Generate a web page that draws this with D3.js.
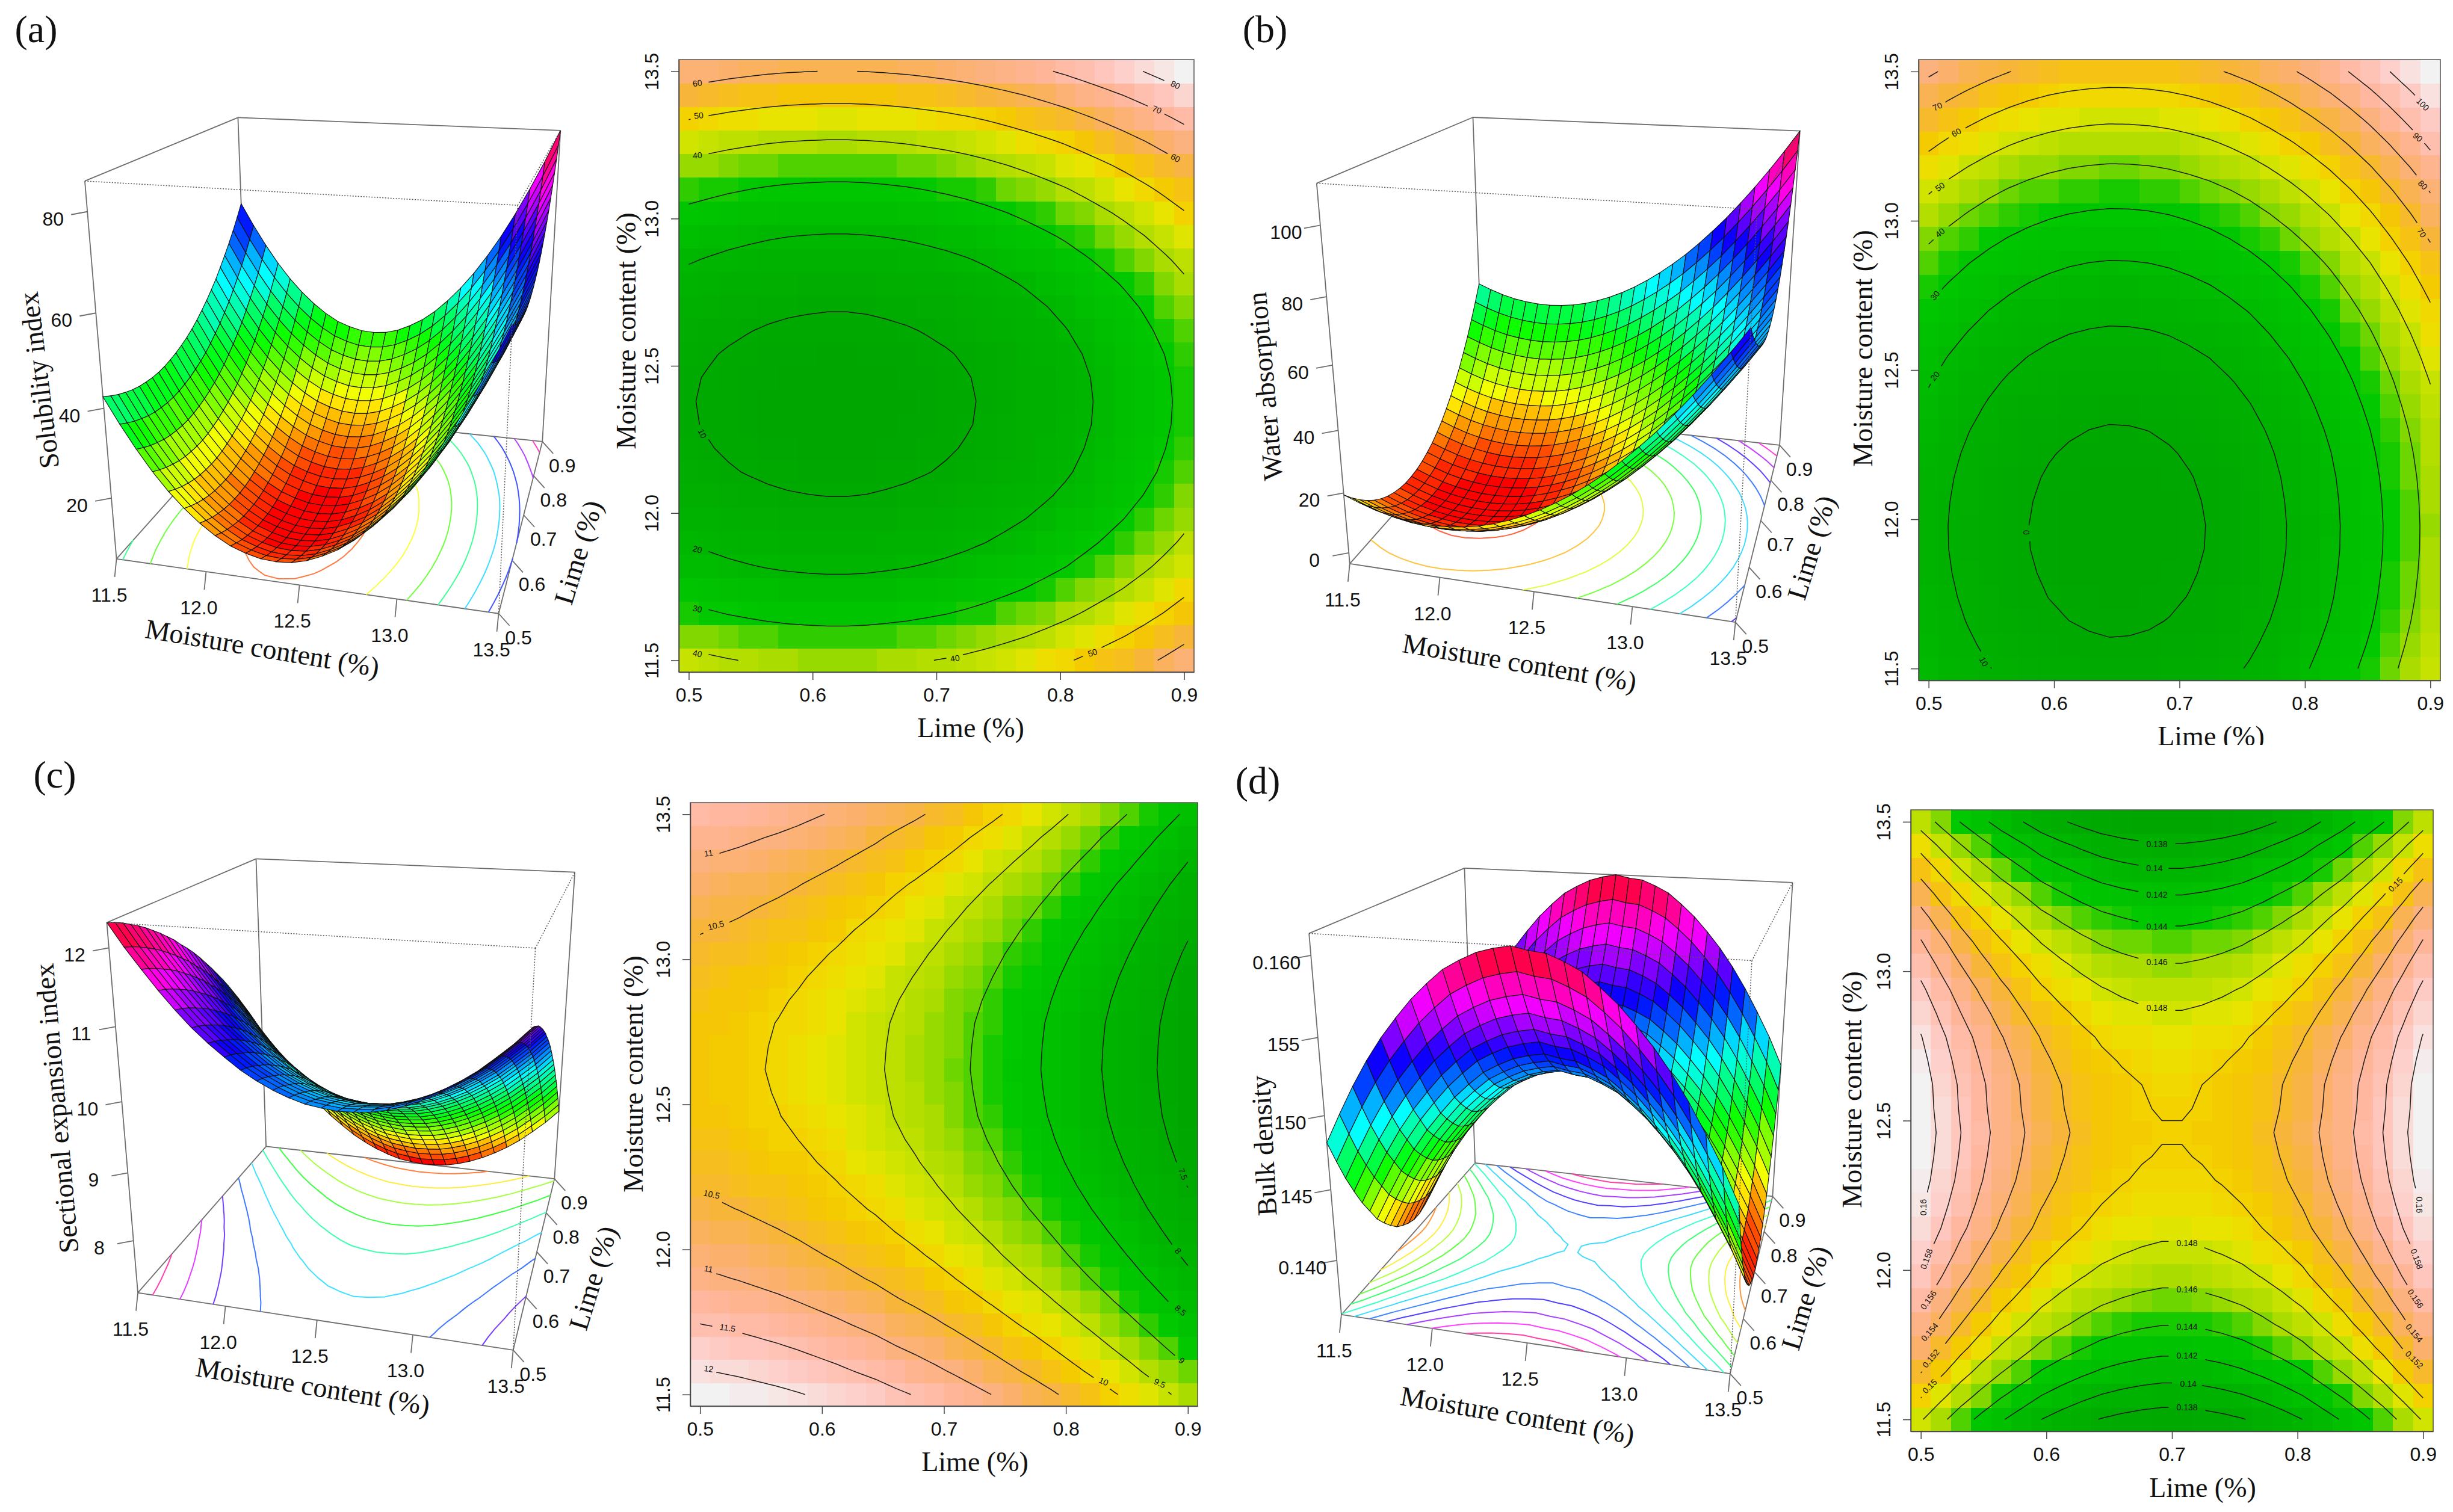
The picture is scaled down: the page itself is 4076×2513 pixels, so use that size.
<!DOCTYPE html>
<html>
<head>
<meta charset="utf-8">
<script src="https://cdn.jsdelivr.net/npm/d3@7"></script>
<style>
  body { margin: 0; background: #fff; }
  svg { display: block; }
  .serif { font-family: "Liberation Serif", serif; fill: #111; }
  .sans { font-family: "Liberation Sans", sans-serif; fill: #111; }
</style>
</head>
<body>
<svg id="chart" width="4076" height="2513"></svg>
<script>
// grid nodes shared by all panels
const limeValues = [0.5,0.516,0.532,0.548,0.564,0.58,0.596,0.612,0.628,0.644,0.66,0.676,0.692,0.708,0.724,0.74,0.756,0.772,0.788,0.804,0.82,0.836,0.852,0.868,0.884,0.9];
const moistureValues = [11.5,11.58,11.66,11.74,11.82,11.9,11.98,12.06,12.14,12.22,12.3,12.38,12.46,12.54,12.62,12.7,12.78,12.86,12.94,13.02,13.1,13.18,13.26,13.34,13.42,13.5];
const limeTicks = [0.5,0.6,0.7,0.8,0.9];
const moistureTicks = [11.5,12,12.5,13,13.5];

// rows go by moisture (11.5 first), columns by lime (0.5 first)
// solubility index, in tenths
const solubilityIndex = [
[425,414,404,396,389,384,381,379,379,381,385,390,397,405,415,427,441,456,473,491,512,534,557,582,609,638],
[369,358,348,340,333,328,325,323,323,325,329,334,341,349,359,371,385,400,417,435,456,478,501,526,553,582],
[318,307,297,289,282,277,274,272,272,274,278,283,290,298,308,320,334,349,366,384,405,427,450,475,502,531],
[272,261,251,243,236,231,228,226,226,228,232,237,244,252,262,274,288,303,320,338,359,381,404,429,456,485],
[232,221,211,203,196,191,188,186,186,188,192,197,204,212,222,234,248,263,280,298,319,341,364,389,416,445],
[198,187,177,169,162,157,154,152,152,154,158,163,170,178,188,200,214,229,246,264,285,307,330,355,382,411],
[169,158,148,140,133,128,125,123,123,125,129,134,141,149,159,171,185,200,217,235,256,278,301,326,353,382],
[145,134,124,116,109,104,101,99,99,101,105,110,117,125,135,147,161,176,193,211,232,254,277,302,329,358],
[126,115,105,97,90,85,82,80,80,82,86,91,98,106,116,128,142,157,174,192,213,235,258,283,310,339],
[114,103,93,85,78,73,70,68,68,70,74,79,86,94,104,116,130,145,162,180,201,223,246,271,298,327],
[106,95,85,77,70,65,62,60,60,62,66,71,78,86,96,108,122,137,154,172,193,215,238,263,290,319],
[104,93,83,75,68,63,60,58,58,60,64,69,76,84,94,106,120,135,152,170,191,213,236,261,288,317],
[107,96,86,78,71,66,63,61,61,63,67,72,79,87,97,109,123,138,155,173,194,216,239,264,291,320],
[116,105,95,87,80,75,72,70,70,72,76,81,88,96,106,118,132,147,164,182,203,225,248,273,300,329],
[131,120,110,102,95,90,87,85,85,87,91,96,103,111,121,133,147,162,179,197,218,240,263,288,315,344],
[150,139,129,121,114,109,106,104,104,106,110,115,122,130,140,152,166,181,198,216,237,259,282,307,334,363],
[175,164,154,146,139,134,131,129,129,131,135,140,147,155,165,177,191,206,223,241,262,284,307,332,359,388],
[206,195,185,177,170,165,162,160,160,162,166,171,178,186,196,208,222,237,254,272,293,315,338,363,390,419],
[242,231,221,213,206,201,198,196,196,198,202,207,214,222,232,244,258,273,290,308,329,351,374,399,426,455],
[283,272,262,254,247,242,239,237,237,239,243,248,255,263,273,285,299,314,331,349,370,392,415,440,467,496],
[330,319,309,301,294,289,286,284,284,286,290,295,302,310,320,332,346,361,378,396,417,439,462,487,514,543],
[382,371,361,353,346,341,338,336,336,338,342,347,354,362,372,384,398,413,430,448,469,491,514,539,566,595],
[440,429,419,411,404,399,396,394,394,396,400,405,412,420,430,442,456,471,488,506,527,549,572,597,624,653],
[503,492,482,474,467,462,459,457,457,459,463,468,475,483,493,505,519,534,551,569,590,612,635,660,687,716],
[571,560,550,542,535,530,527,525,525,527,531,536,543,551,561,573,587,602,619,637,658,680,703,728,755,784],
[645,634,624,616,609,604,601,599,599,601,605,610,617,625,635,647,661,676,693,711,732,754,777,802,829,858]];

// water absorption, in tenths
const waterAbsorption = [
[194,160,130,103,80,61,46,35,28,24,25,29,37,49,64,84,107,135,166,201,239,282,328,379,433,491],
[175,141,111,84,61,42,27,16,9,5,6,10,18,30,45,65,88,116,147,182,220,263,309,360,414,472],
[159,125,95,68,45,26,11,0,-7,-11,-10,-6,2,14,29,49,72,100,131,166,204,247,293,344,398,456],
[147,113,83,56,33,14,-1,-12,-19,-23,-22,-18,-10,2,17,37,60,88,119,154,192,235,281,332,386,444],
[139,105,75,48,25,6,-9,-20,-27,-31,-30,-26,-18,-6,9,29,52,80,111,146,184,227,273,324,378,436],
[134,100,70,43,20,1,-14,-25,-32,-36,-35,-31,-23,-11,4,24,47,75,106,141,179,222,268,319,373,431],
[133,99,69,42,19,0,-15,-26,-33,-37,-36,-32,-24,-12,3,23,46,74,105,140,178,221,267,318,372,430],
[136,102,72,45,22,3,-12,-23,-30,-34,-33,-29,-21,-9,6,26,49,77,108,143,181,224,270,321,375,433],
[142,108,78,51,28,9,-6,-17,-24,-28,-27,-23,-15,-3,12,32,55,83,114,149,187,230,276,327,381,439],
[152,118,88,61,38,19,4,-7,-14,-18,-17,-13,-5,7,22,42,65,93,124,159,197,240,286,337,391,449],
[166,132,102,75,52,33,18,7,0,-4,-3,1,9,21,36,56,79,107,138,173,211,254,300,351,405,463],
[184,150,120,93,70,51,36,25,18,14,15,19,27,39,54,74,97,125,156,191,229,272,318,369,423,481],
[205,171,141,114,91,72,57,46,39,35,36,40,48,60,75,95,118,146,177,212,250,293,339,390,444,502],
[230,196,166,139,116,97,82,71,64,60,61,65,73,85,100,120,143,171,202,237,275,318,364,415,469,527],
[259,225,195,168,145,126,111,100,93,89,90,94,102,114,129,149,172,200,231,266,304,347,393,444,498,556],
[291,257,227,200,177,158,143,132,125,121,122,126,134,146,161,181,204,232,263,298,336,379,425,476,530,588],
[327,293,263,236,213,194,179,168,161,157,158,162,170,182,197,217,240,268,299,334,372,415,461,512,566,624],
[366,332,302,275,252,233,218,207,200,196,197,201,209,221,236,256,279,307,338,373,411,454,500,551,605,663],
[410,376,346,319,296,277,262,251,244,240,241,245,253,265,280,300,323,351,382,417,455,498,544,595,649,707],
[457,423,393,366,343,324,309,298,291,287,288,292,300,312,327,347,370,398,429,464,502,545,591,642,696,754],
[507,473,443,416,393,374,359,348,341,337,338,342,350,362,377,397,420,448,479,514,552,595,641,692,746,804],
[562,528,498,471,448,429,414,403,396,392,393,397,405,417,432,452,475,503,534,569,607,650,696,747,801,859],
[620,586,556,529,506,487,472,461,454,450,451,455,463,475,490,510,533,561,592,627,665,708,754,805,859,917],
[682,648,618,591,568,549,534,523,516,512,513,517,525,537,552,572,595,623,654,689,727,770,816,867,921,979],
[747,713,683,656,633,614,599,588,581,577,578,582,590,602,617,637,660,688,719,754,792,835,881,932,986,1044],
[816,782,752,725,702,683,668,657,650,646,647,651,659,671,686,706,729,757,788,823,861,904,950,1001,1055,1113]];

// sectional expansion index, in hundredths
const sectionalExpansion = [
[1231,1227,1222,1216,1210,1203,1195,1187,1178,1169,1158,1148,1137,1125,1112,1099,1085,1071,1056,1040,1024,1007,990,972,953,934],
[1202,1198,1193,1187,1181,1174,1166,1158,1149,1140,1129,1119,1108,1096,1083,1070,1056,1042,1027,1011,995,978,961,943,924,905],
[1176,1172,1167,1161,1155,1148,1140,1132,1123,1114,1103,1093,1082,1070,1057,1044,1030,1016,1001,985,969,952,935,917,898,879],
[1151,1147,1142,1136,1130,1123,1115,1107,1098,1089,1078,1068,1057,1045,1032,1019,1005,991,976,960,944,927,910,892,873,854],
[1128,1124,1119,1113,1107,1100,1092,1084,1075,1066,1055,1045,1034,1022,1009,996,982,968,953,937,921,904,887,869,850,831],
[1107,1103,1098,1092,1086,1079,1071,1063,1054,1045,1034,1024,1013,1001,988,975,961,947,932,916,900,883,866,848,829,810],
[1089,1085,1080,1074,1068,1061,1053,1045,1036,1027,1016,1006,995,983,970,957,943,929,914,898,882,865,848,830,811,792],
[1073,1069,1064,1058,1052,1045,1037,1029,1020,1011,1000,990,979,967,954,941,927,913,898,882,866,849,832,814,795,776],
[1058,1054,1049,1043,1037,1030,1022,1014,1005,996,985,975,964,952,939,926,912,898,883,867,851,834,817,799,780,761],
[1046,1042,1037,1031,1025,1018,1010,1002,993,984,973,963,952,940,927,914,900,886,871,855,839,822,805,787,768,749],
[1036,1032,1027,1021,1015,1008,1000,992,983,974,963,953,942,930,917,904,890,876,861,845,829,812,795,777,758,739],
[1028,1024,1019,1013,1007,1000,992,984,975,966,955,945,934,922,909,896,882,868,853,837,821,804,787,769,750,731],
[1022,1018,1013,1007,1001,994,986,978,969,960,949,939,928,916,903,890,876,862,847,831,815,798,781,763,744,725],
[1019,1015,1010,1004,998,991,983,975,966,957,946,936,925,913,900,887,873,859,844,828,812,795,778,760,741,722],
[1017,1013,1008,1002,996,989,981,973,964,955,944,934,923,911,898,885,871,857,842,826,810,793,776,758,739,720],
[1018,1014,1009,1003,997,990,982,974,965,956,945,935,924,912,899,886,872,858,843,827,811,794,777,759,740,721],
[1020,1016,1011,1005,999,992,984,976,967,958,947,937,926,914,901,888,874,860,845,829,813,796,779,761,742,723],
[1025,1021,1016,1010,1004,997,989,981,972,963,952,942,931,919,906,893,879,865,850,834,818,801,784,766,747,728],
[1032,1028,1023,1017,1011,1004,996,988,979,970,959,949,938,926,913,900,886,872,857,841,825,808,791,773,754,735],
[1041,1037,1032,1026,1020,1013,1005,997,988,979,968,958,947,935,922,909,895,881,866,850,834,817,800,782,763,744],
[1052,1048,1043,1037,1031,1024,1016,1008,999,990,979,969,958,946,933,920,906,892,877,861,845,828,811,793,774,755],
[1065,1061,1056,1050,1044,1037,1029,1021,1012,1003,992,982,971,959,946,933,919,905,890,874,858,841,824,806,787,768],
[1080,1076,1071,1065,1059,1052,1044,1036,1027,1018,1007,997,986,974,961,948,934,920,905,889,873,856,839,821,802,783],
[1098,1094,1089,1083,1077,1070,1062,1054,1045,1036,1025,1015,1004,992,979,966,952,938,923,907,891,874,857,839,820,801],
[1117,1113,1108,1102,1096,1089,1081,1073,1064,1055,1044,1034,1023,1011,998,985,971,957,942,926,910,893,876,858,839,820],
[1139,1135,1130,1124,1118,1111,1103,1095,1086,1077,1066,1056,1045,1033,1020,1007,993,979,964,948,932,915,898,880,861,842]];

// bulk density, in ten-thousandths
const bulkDensity = [
[1482,1465,1449,1435,1422,1411,1400,1392,1385,1379,1375,1372,1370,1370,1372,1375,1379,1385,1392,1400,1411,1422,1435,1449,1465,1482],
[1502,1485,1469,1455,1442,1431,1420,1412,1405,1399,1395,1392,1390,1390,1392,1395,1399,1405,1412,1420,1431,1442,1455,1469,1485,1502],
[1521,1504,1488,1474,1461,1450,1439,1431,1424,1418,1414,1411,1409,1409,1411,1414,1418,1424,1431,1439,1450,1461,1474,1488,1504,1521],
[1538,1521,1505,1491,1478,1467,1456,1448,1441,1435,1431,1428,1426,1426,1428,1431,1435,1441,1448,1456,1467,1478,1491,1505,1521,1538],
[1553,1536,1520,1506,1493,1482,1471,1463,1456,1450,1446,1443,1441,1441,1443,1446,1450,1456,1463,1471,1482,1493,1506,1520,1536,1553],
[1566,1549,1533,1519,1506,1495,1484,1476,1469,1463,1459,1456,1454,1454,1456,1459,1463,1469,1476,1484,1495,1506,1519,1533,1549,1566],
[1578,1561,1545,1531,1518,1507,1496,1488,1481,1475,1471,1468,1466,1466,1468,1471,1475,1481,1488,1496,1507,1518,1531,1545,1561,1578],
[1588,1571,1555,1541,1528,1517,1506,1498,1491,1485,1481,1478,1476,1476,1478,1481,1485,1491,1498,1506,1517,1528,1541,1555,1571,1588],
[1597,1580,1564,1550,1537,1526,1515,1507,1500,1494,1490,1487,1485,1485,1487,1490,1494,1500,1507,1515,1526,1537,1550,1564,1580,1597],
[1603,1586,1570,1556,1543,1532,1521,1513,1506,1500,1496,1493,1491,1491,1493,1496,1500,1506,1513,1521,1532,1543,1556,1570,1586,1603],
[1608,1591,1575,1561,1548,1537,1526,1518,1511,1505,1501,1498,1496,1496,1498,1501,1505,1511,1518,1526,1537,1548,1561,1575,1591,1608],
[1611,1594,1578,1564,1551,1540,1529,1521,1514,1508,1504,1501,1499,1499,1501,1504,1508,1514,1521,1529,1540,1551,1564,1578,1594,1611],
[1613,1596,1580,1566,1553,1542,1531,1523,1516,1510,1506,1503,1501,1501,1503,1506,1510,1516,1523,1531,1542,1553,1566,1580,1596,1613],
[1611,1594,1578,1564,1551,1540,1529,1521,1514,1508,1504,1501,1499,1499,1501,1504,1508,1514,1521,1529,1540,1551,1564,1578,1594,1611],
[1610,1593,1577,1563,1550,1539,1528,1520,1513,1507,1503,1500,1498,1498,1500,1503,1507,1513,1520,1528,1539,1550,1563,1577,1593,1610],
[1606,1589,1573,1559,1546,1535,1524,1516,1509,1503,1499,1496,1494,1494,1496,1499,1503,1509,1516,1524,1535,1546,1559,1573,1589,1606],
[1601,1584,1568,1554,1541,1530,1519,1511,1504,1498,1494,1491,1489,1489,1491,1494,1498,1504,1511,1519,1530,1541,1554,1568,1584,1601],
[1593,1576,1560,1546,1533,1522,1511,1503,1496,1490,1486,1483,1481,1481,1483,1486,1490,1496,1503,1511,1522,1533,1546,1560,1576,1593],
[1584,1567,1551,1537,1524,1513,1502,1494,1487,1481,1477,1474,1472,1472,1474,1477,1481,1487,1494,1502,1513,1524,1537,1551,1567,1584],
[1573,1556,1540,1526,1513,1502,1491,1483,1476,1470,1466,1463,1461,1461,1463,1466,1470,1476,1483,1491,1502,1513,1526,1540,1556,1573],
[1561,1544,1528,1514,1501,1490,1479,1471,1464,1458,1454,1451,1449,1449,1451,1454,1458,1464,1471,1479,1490,1501,1514,1528,1544,1561],
[1547,1530,1514,1500,1487,1476,1465,1457,1450,1444,1440,1437,1435,1435,1437,1440,1444,1450,1457,1465,1476,1487,1500,1514,1530,1547],
[1531,1514,1498,1484,1471,1460,1449,1441,1434,1428,1424,1421,1419,1419,1421,1424,1428,1434,1441,1449,1460,1471,1484,1498,1514,1531],
[1513,1496,1480,1466,1453,1442,1431,1423,1416,1410,1406,1403,1401,1401,1403,1406,1410,1416,1423,1431,1442,1453,1466,1480,1496,1513],
[1494,1477,1461,1447,1434,1423,1412,1404,1397,1391,1387,1384,1382,1382,1384,1387,1391,1397,1404,1412,1423,1434,1447,1461,1477,1494],
[1472,1455,1439,1425,1412,1401,1390,1382,1375,1369,1365,1362,1360,1360,1362,1365,1369,1375,1382,1390,1401,1412,1425,1439,1455,1472]];

// contour levels
const solubilityLevels = [10,20,30,40,50,60,70,80];
const absorptionLevels = [0,10,20,30,40,50,60,70,80,90,100];
const expansionLevels = [7.5,8,8.5,9,9.5,10,10.5,11,11.5,12];
const densityLevels = [0.136,0.138,0.14,0.142,0.144,0.146,0.148,0.15,0.152,0.154,0.156,0.158,0.16];

// contour labels: level, lime, moisture, angle
const solubilityLabels = [[60,.507,13.46,-8],[50,.508,13.35,-6],[40,.507,13.215,-5],[10,.511,12.27,65],[20,.507,11.877,15],[30,.507,11.675,12],[40,.507,11.523,12],[40,.715,11.507,-8],[50,.826,11.526,-20],[80,.893,13.454,25],[70,.878,13.37,22],[60,.893,13.206,30]];
const absorptionLabels = [[0,.578,11.956,90],[10,.544,11.523,60],[20,.505,12.48,-50],[30,.505,12.75,-50],[40,.509,12.96,-40],[50,.509,13.114,-35],[60,.522,13.296,-28],[70,.507,13.383,-25],[100,.894,13.39,45],[90,.89,13.28,40],[80,.894,13.12,45],[70,.893,12.96,55]];
const expansionLabels = [[11,.507,13.366,-10],[10.5,.513,13.117,-15],[10.5,.5095,12.19,12],[11,.507,11.933,10],[11.5,.5226,11.73,8],[12,.507,11.589,8],[7.5,.896,12.26,70],[8,.892,11.995,50],[8.5,.894,11.79,40],[9,.895,11.617,40],[9.5,.877,11.539,25],[10,.831,11.545,25]];
const densityLabels = [[.138,.688,13.426,0],[.14,.686,13.344,0],[.142,.688,13.256,0],[.144,.688,13.15,0],[.146,.688,13.03,0],[.148,.688,12.877,0],[.148,.712,12.09,0],[.146,.712,11.935,0],[.144,.712,11.81,0],[.142,.712,11.713,0],[.14,.713,11.62,0],[.138,.712,11.54,0],[.16,.502,12.21,-90],[.158,.5045,12.037,-70],[.156,.506,11.9,-55],[.154,.507,11.793,-50],[.152,.508,11.704,-50],[.15,.507,11.611,-45],[.15,.878,13.29,-45],[.16,.897,12.218,90],[.158,.895,12.037,70],[.156,.894,11.904,55],[.154,.893,11.789,50],[.152,.893,11.7,45]];

// z axis tick labels of the 3D views
const solubilityTicks = [20,40,60,80];
const absorptionTicks = [0,20,40,60,80,100];
const expansionTicks = [8,9,10,11,12];
const densityTicks = [0.14,0.145,0.15,0.155,0.16];
const densityTickText = ["0.140","145","150","155","0.160"];

// colour ramp of the flat maps
const heatStops = [0,.15,.3,.33,.36,.41,.47,.5,.53,.58,.65,.72,.8,.88,.95,1];
const heatColors = ["#00a600","#00b400","#00c800","#28cc00","#66d400","#a8dc00","#cce300","#e6e600","#f0dc00","#f5c800","#f7b638","#fbb070","#ffb59a","#ffc8c0","#f8e0de","#f2f2f2"];

const panels = [
  { tag: "(a)", tagAt: [60,48], grid: solubilityIndex, unit: 10, levels: solubilityLevels, labels: solubilityLabels,
    zTicks: solubilityTicks, zText: null, zTitle: "Solubility index", zAngle: -97,
    corners: [[194,926],[829,1023],[413,686],[901,730],[141,300],[859,342],[395.5,194.5],[932,218]],
    moistAt: [436,1077], limeAt: [961,918], zAt: [65,632],
    frame: [1128,1984,99,1117], limeTitle: [1613,1209], moistTitle: [1040,550] },
  { tag: "(b)", tagAt: [2102,48], grid: waterAbsorption, unit: 10, levels: absorptionLevels, labels: absorptionLabels,
    zTicks: absorptionTicks, zText: null, zTitle: "Water absorption", zAngle: -95,
    corners: [[2243,937.5],[2883,1035],[2466,685],[2957,739],[2189,305],[2919,346],[2446,194.5],[2992,219.4]],
    moistAt: [2525,1101], limeAt: [3010,910], zAt: [2102,642],
    frame: [3188,4055,99,1131], limeTitle: [3674,1223], moistTitle: [3095,579], clipTitle: 1238 },
  { tag: "(c)", tagAt: [91,1287], grid: sectionalExpansion, unit: 100, levels: expansionLevels, labels: expansionLabels,
    zTicks: expansionTicks, zText: null, zTitle: "Sectional expansion index", zAngle: -95,
    corners: [[229,2148],[852,2244],[442,1906],[922,1959],[177,1533],[891,1577],[426,1427.5],[954,1449]],
    moistAt: [520,2304], limeAt: [985.5,2124], zAt: [94,1842],
    frame: [1147,1990,1334,2337], limeTitle: [1620,2429], moistTitle: [1052,1785] },
  { tag: "(d)", tagAt: [2090,1297], grid: bulkDensity, unit: 10000, levels: densityLevels, labels: densityLabels,
    zTicks: densityTicks, zText: densityTickText, zTitle: "Bulk density", zAngle: -93,
    corners: [[2229,2185],[2874,2283],[2451,1933],[2946,1988.5],[2175,1551],[2912,1597],[2433.5,1443],[2978,1466.6]],
    moistAt: [2521.5,2352], limeAt: [3000,2157], zAt: [2100,1904],
    frame: [3175,4043,1346,2379], limeTitle: [3660,2472], moistTitle: [3077,1811] }
];

const svg = d3.select("#chart");
const n = limeValues.length;
const limeStep = limeValues[1] - limeValues[0];
const moistStep = moistureValues[1] - moistureValues[0];
const idxLime = d3.scaleLinear().domain([0, n - 1]).range([limeValues[0], limeValues[n - 1]]);
const idxMoist = d3.scaleLinear().domain([0, n - 1]).range([moistureValues[0], moistureValues[n - 1]]);
const heatScale = d3.scaleLinear().domain(heatStops).range(heatColors).interpolate(d3.interpolateRgb);

function hsv(h, s, v) {
  // h in degrees
  const f = (k) => {
    const m = (k + h / 60) % 6;
    return v - v * s * Math.max(0, Math.min(m, 4 - m, 1));
  };
  return d3.rgb(f(5) * 255, f(3) * 255, f(1) * 255).formatHex();
}

function terrain(t, bands) {
  return heatScale(Math.min(bands - 1, Math.floor(t * bands)) / (bands - 1));
}

// rainbow with the last bit of the hue circle left out
function rainbow(t, bands) {
  const k = Math.min(bands - 1, Math.floor(t * bands));
  return hsv((k / bands) * 360, 1, 1);
}

// contour lines in lime / moisture units, with the grid border dropped
function isoLines(grid, raw) {
  const [shape] = d3.contours().size([n, n]).thresholds([raw])(grid.flat());
  const onEdge = (p) => p[0] <= 0 || p[0] >= n || p[1] <= 0 || p[1] >= n;
  const lines = [];
  shape.coordinates.forEach((poly) =>
    poly.forEach((ring) => {
      const pts = ring.slice(0, -1);
      const start = pts.findIndex(onEdge);
      if (start < 0) {
        lines.push(ring);
        return;
      }
      let cur = [];
      for (let k = 0; k <= pts.length; k++) {
        const p = pts[(start + k) % pts.length];
        if (onEdge(p)) {
          if (cur.length > 1) lines.push(cur);
          cur = [];
        } else cur.push(p);
      }
    })
  );
  return lines.map((l) => l.map(([cx, cy]) => [idxLime(cx - 0.5), idxMoist(cy - 0.5)]));
}

// fit a 3x4 camera matrix to the eight box corners
function fitCamera(corners) {
  const cx = d3.mean(corners, (c) => c[0]);
  const cy = d3.mean(corners, (c) => c[1]);
  const rows = [], rhs = [];
  const unit = [[0,0,0],[1,0,0],[0,1,0],[1,1,0],[0,0,1],[1,0,1],[0,1,1],[1,1,1]];
  corners.forEach((c, i) => {
    const [u, v, w] = unit[i];
    const x = (c[0] - cx) / 500, y = (c[1] - cy) / 500;
    rows.push([u, v, w, 1, 0, 0, 0, 0, -x * u, -x * v, -x * w]);
    rhs.push(x);
    rows.push([0, 0, 0, 0, u, v, w, 1, -y * u, -y * v, -y * w]);
    rhs.push(y);
  });
  const m = 11;
  const A = d3.range(m).map((i) => {
    const r = d3.range(m).map((j) => d3.sum(rows, (row) => row[i] * row[j]));
    r.push(d3.sum(rows, (row, k) => row[i] * rhs[k]));
    return r;
  });
  for (let i = 0; i < m; i++) {
    let piv = i;
    for (let k = i + 1; k < m; k++) if (Math.abs(A[k][i]) > Math.abs(A[piv][i])) piv = k;
    [A[i], A[piv]] = [A[piv], A[i]];
    for (let k = 0; k < m; k++) {
      if (k === i) continue;
      const f = A[k][i] / A[i][i];
      for (let j = i; j <= m; j++) A[k][j] -= f * A[i][j];
    }
  }
  const p = d3.range(m).map((i) => A[i][m] / A[i][i]);
  return ([u, v, w]) => {
    const d = p[8] * u + p[9] * v + p[10] * w + 1;
    return [
      ((p[0] * u + p[1] * v + p[2] * w + p[3]) / d) * 500 + cx,
      ((p[4] * u + p[5] * v + p[6] * w + p[7]) / d) * 500 + cy,
    ];
  };
}

const lineGen = d3.line();

function drawSurface(panel) {
  const g = svg.append("g");
  const project = fitCamera(panel.corners);
  const zExtent = d3.extent(panel.grid.flat());
  const uScale = d3.scaleLinear().domain([11.5, 13.5]).range([0, 1]);
  const vScale = d3.scaleLinear().domain([0.5, 0.9]).range([0, 1]);
  const wScale = d3.scaleLinear().domain(zExtent).range([0, 1]);
  const at = (lime, moist, raw) => project([uScale(moist), vScale(lime), wScale(raw)]);

  const solid = [
    [[0,0,0],[1,0,0]], [[1,0,0],[1,1,0]], [[0,0,0],[0,1,0]], [[0,1,0],[1,1,0]],
    [[0,0,0],[0,0,1]], [[0,0,1],[0,1,1]], [[0,1,1],[1,1,1]], [[0,1,1],[0,1,0]], [[1,1,1],[1,1,0]],
  ];
  const dotted = [[[0,0,1],[1,0,1]], [[1,0,1],[1,1,1]], [[1,0,1],[1,0,0]]];

  g.selectAll(".edge").data(solid).join("path")
    .attr("d", (d) => lineGen(d.map(project)))
    .attr("fill", "none").attr("stroke", "#6e6e6e").attr("stroke-width", 1.8);

  // contours on the floor of the box
  panel.levels.forEach((level) => {
    const raw = Math.round(level * panel.unit);
    const t = wScale(raw);
    const col = hsv(Math.max(0, t) * 345, 0.75, 1);
    isoLines(panel.grid, raw).forEach((line) => {
      g.append("path")
        .attr("d", lineGen(line.map(([l, m]) => project([uScale(m), vScale(l), 0]))))
        .attr("fill", "none").attr("stroke", col).attr("stroke-width", 2);
    });
  });

  // back to front: low moisture and high lime are farthest away
  const cells = [];
  for (let j = 0; j < n - 1; j++) {
    for (let i = n - 2; i >= 0; i--) {
      const zs = [panel.grid[j][i], panel.grid[j][i + 1], panel.grid[j + 1][i + 1], panel.grid[j + 1][i]];
      cells.push({ i, j, z: d3.mean(zs) });
    }
  }
  g.selectAll(".cell").data(cells).join("path")
    .attr("d", (c) => {
      const pts = [
        at(limeValues[c.i], moistureValues[c.j], panel.grid[c.j][c.i]),
        at(limeValues[c.i + 1], moistureValues[c.j], panel.grid[c.j][c.i + 1]),
        at(limeValues[c.i + 1], moistureValues[c.j + 1], panel.grid[c.j + 1][c.i + 1]),
        at(limeValues[c.i], moistureValues[c.j + 1], panel.grid[c.j + 1][c.i]),
      ];
      return lineGen(pts) + "Z";
    })
    .attr("fill", (c) => rainbow(wScale(c.z), 40))
    .attr("stroke", "#111").attr("stroke-width", 1.1);

  g.selectAll(".dot").data(dotted).join("path")
    .attr("d", (d) => lineGen(d.map(project)))
    .attr("fill", "none").attr("stroke", "#555").attr("stroke-width", 1.5).attr("stroke-dasharray", "2 2.5");

  // ticks
  const tick = (p, dx, dy) => g.append("line")
    .attr("x1", p[0]).attr("y1", p[1]).attr("x2", p[0] + dx).attr("y2", p[1] + dy)
    .attr("stroke", "#6e6e6e").attr("stroke-width", 1.8);
  const label = (p, dx, dy, text) => g.append("text").attr("class", "sans")
    .attr("x", p[0] + dx).attr("y", p[1] + dy).attr("text-anchor", "middle")
    .attr("dominant-baseline", "central").attr("font-size", 32).text(text);

  moistureTicks.forEach((m) => {
    const p = project([uScale(m), 0, 0]);
    tick(p, -3, 30);
    label(p, -12, 60, d3.format(".1f")(m));
  });
  limeTicks.forEach((l) => {
    const p = project([1, vScale(l), 0]);
    tick(p, 18, 20);
    label(p, 33, 40, d3.format(".1f")(l));
  });
  panel.zTicks.forEach((z, i) => {
    const p = project([0, 0, wScale(z * panel.unit)]);
    tick(p, -27, 5);
    label(p, -57, 12, panel.zText ? panel.zText[i] : String(z));
  });

  const title = (at2, angle, text) => g.append("text").attr("class", "serif")
    .attr("transform", `translate(${at2[0]},${at2[1]}) rotate(${angle})`)
    .attr("text-anchor", "middle").attr("dominant-baseline", "central")
    .attr("font-size", 46).text(text);
  title(panel.moistAt, 9.5, "Moisture content (%)");
  title(panel.limeAt, -73, "Lime (%)");
  title(panel.zAt, panel.zAngle, panel.zTitle);

  svg.append("text").attr("class", "serif")
    .attr("x", panel.tagAt[0]).attr("y", panel.tagAt[1]).attr("text-anchor", "middle")
    .attr("dominant-baseline", "central").attr("font-size", 64).text(panel.tag);
}

function drawHeat(panel, index) {
  const [x0, x1, y0, y1] = panel.frame;
  const g = svg.append("g");
  const x = d3.scaleLinear().domain([0.5 - limeStep / 2, 0.9 + limeStep / 2]).range([x0, x1]);
  const y = d3.scaleLinear().domain([11.5 - moistStep / 2, 13.5 + moistStep / 2]).range([y1, y0]);
  const extent = d3.extent(panel.grid.flat());
  const tScale = d3.scaleLinear().domain(extent).range([0, 1]);

  const cells = [];
  panel.grid.forEach((row, j) => row.forEach((z, i) => cells.push({ i, j, z })));
  g.selectAll("rect").data(cells).join("rect")
    .attr("x", (c) => x(limeValues[c.i] - limeStep / 2))
    .attr("y", (c) => y(moistureValues[c.j] + moistStep / 2))
    .attr("width", x(limeStep) - x(0) + 0.6)
    .attr("height", y(0) - y(moistStep) + 0.6)
    .attr("fill", (c) => terrain(tScale(c.z), 64))
    .attr("shape-rendering", "crispEdges");

  // labels first, so the lines can be broken where they sit
  const labelInfo = panel.labels.map(([level, lime, moist, angle]) => ({
    level, angle, px: x(lime), py: y(moist), text: String(level), r: 6 + String(level).length * 4,
  }));

  panel.levels.forEach((level) => {
    const raw = Math.round(level * panel.unit);
    const gaps = labelInfo.filter((d) => d.level === level);
    isoLines(panel.grid, raw).forEach((line) => {
      const pts = line.map(([l, m]) => [x(l), y(m)]);
      let cur = [];
      const flush = () => {
        if (cur.length > 1) {
          g.append("path").attr("d", lineGen(cur)).attr("fill", "none")
            .attr("stroke", "#1c1c1c").attr("stroke-width", 1.5);
        }
        cur = [];
      };
      for (let k = 0; k < pts.length - 1; k++) {
        for (let s = 0; s < 6; s++) {
          const p = [
            pts[k][0] + ((pts[k + 1][0] - pts[k][0]) * s) / 6,
            pts[k][1] + ((pts[k + 1][1] - pts[k][1]) * s) / 6,
          ];
          if (gaps.some((d) => Math.hypot(p[0] - d.px, p[1] - d.py) < d.r)) flush();
          else cur.push(p);
        }
      }
      cur.push(pts[pts.length - 1]);
      flush();
    });
  });

  g.selectAll(".clabel").data(labelInfo).join("text").attr("class", "sans")
    .attr("transform", (d) => `translate(${d.px},${d.py}) rotate(${d.angle})`)
    .attr("text-anchor", "middle").attr("dominant-baseline", "central")
    .attr("font-size", 14).text((d) => d.text);

  g.append("rect").attr("x", x0).attr("y", y0).attr("width", x1 - x0).attr("height", y1 - y0)
    .attr("fill", "none").attr("stroke", "#555").attr("stroke-width", 1.5);

  const gx = g.append("g").attr("transform", `translate(0,${y1})`)
    .call(d3.axisBottom(x).tickValues(limeTicks).tickFormat(d3.format(".1f")).tickSize(13).tickSizeOuter(0));
  gx.selectAll("text").attr("class", "sans").attr("font-size", 32).attr("y", 26);

  const gy = g.append("g").attr("transform", `translate(${x0},0)`)
    .call(d3.axisLeft(y).tickValues(moistureTicks).tickFormat(d3.format(".1f")).tickSize(13).tickSizeOuter(0));
  gy.selectAll("text").attr("class", "sans").attr("font-size", 32)
    .attr("transform", "rotate(-90)").attr("text-anchor", "middle")
    .attr("x", 0).attr("y", -34).attr("dy", 0);

  [gx, gy].forEach((a) => {
    a.selectAll("line").attr("stroke", "#444").attr("stroke-width", 1.5);
    a.select(".domain").attr("stroke", "#444").attr("stroke-width", 1.5);
  });

  const limeTitle = g.append("text").attr("class", "serif")
    .attr("x", panel.limeTitle[0]).attr("y", panel.limeTitle[1]).attr("text-anchor", "middle")
    .attr("dominant-baseline", "central").attr("font-size", 46).text("Lime (%)");
  if (panel.clipTitle) {
    const id = "clip" + index;
    svg.append("clipPath").attr("id", id).append("rect")
      .attr("x", x0).attr("y", y1).attr("width", x1 - x0).attr("height", panel.clipTitle - y1);
    limeTitle.attr("clip-path", `url(#${id})`);
  }
  g.append("text").attr("class", "serif")
    .attr("transform", `translate(${panel.moistTitle[0]},${panel.moistTitle[1]}) rotate(-90)`)
    .attr("text-anchor", "middle").attr("dominant-baseline", "central")
    .attr("font-size", 46).text("Moisture content (%)");
}

panels.forEach((p, i) => {
  drawSurface(p);
  drawHeat(p, i);
});
</script>
</body>
</html>
